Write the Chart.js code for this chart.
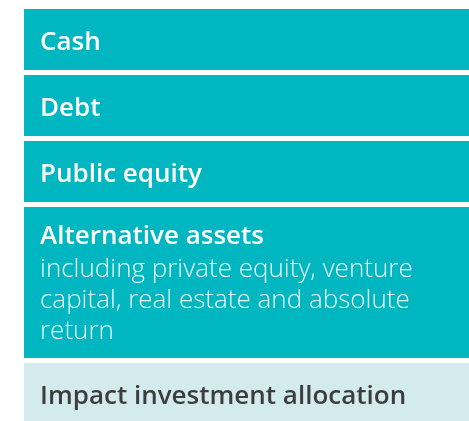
<!DOCTYPE html>
<html>
<head>
<meta charset="utf-8">
<script src="https://cdn.jsdelivr.net/npm/chart.js@4"></script>
<style>
  html, body { margin: 0; padding: 0; background: #fff; }
  #wrap { width: 469px; height: 421px; position: relative; }
</style>
</head>
<body>
<div id="wrap"><canvas id="chart"></canvas></div>
<script>
// allocation layers, top to bottom
const layers = ["Cash", "Debt", "Public equity", "Alternative assets", "Impact investment allocation"];
const layerNotes = [
  [],
  [],
  [],
  ["including private equity, venture", "capital, real estate and absolute", "return"],
  []
];
// relative height of each layer (the impact band runs off the bottom)
const layerSizes = [66, 66, 66, 156, 66];
const layerColors = ["#00b6c0", "#00b6c0", "#00b6c0", "#00b6c0", "#d3ebed"];
const labelColors = ["#ffffff", "#ffffff", "#ffffff", "#ffffff", "#3d3d3d"];

const datasets = layers.map((name, i) => ({
  label: name,
  data: [layerSizes[i]],
  backgroundColor: layerColors[i],
  borderColor: "#ffffff",
  borderWidth: { top: 2.5, bottom: 2.5, left: 0, right: 0 },
  borderSkipped: false,
  inflateAmount: 0,
  barPercentage: 1,
  categoryPercentage: 1
}));

// write the names inside each box
const boxLabels = {
  id: "boxLabels",
  afterDatasetsDraw(chart) {
    const ctx = chart.ctx;
    ctx.save();
    ctx.textBaseline = "alphabetic";
    ctx.textAlign = "left";
    chart.data.datasets.forEach((ds, i) => {
      const bar = chart.getDatasetMeta(i).data[0];
      const p = bar.getProps(["x", "y", "base", "width"], true);
      const left = p.x - p.width / 2;
      const top = Math.min(p.y, p.base) + 2.5;
      const notes = layerNotes[i];
      ctx.fillStyle = labelColors[i];
      ctx.font = "600 26px 'Open Sans'";
      const titleY = notes.length ? top + 37 : top + 41;
      ctx.fillText(layers[i], left + 16, titleY);
      ctx.font = "300 26px 'Open Sans'";
      ctx.fillStyle = "rgba(255,255,255,0.92)";
      notes.forEach((line, j) => {
        ctx.fillText(line, left + 16, titleY + 33 + j * 31);
      });
    });
    ctx.restore();
  }
};

new Chart(document.getElementById("chart"), {
  type: "bar",
  data: { labels: ["allocation"], datasets: datasets },
  options: {
    responsive: true,
    maintainAspectRatio: false,
    animation: false,
    layout: { padding: { left: 24, right: 0, top: 6.5, bottom: 0 } },
    plugins: { legend: { display: false }, tooltip: { enabled: false } },
    scales: {
      x: { stacked: true, display: false },
      y: { stacked: true, display: false, reverse: true, min: 0, max: 414.5 }
    }
  },
  plugins: [boxLabels]
});
</script>
</body>
</html>
